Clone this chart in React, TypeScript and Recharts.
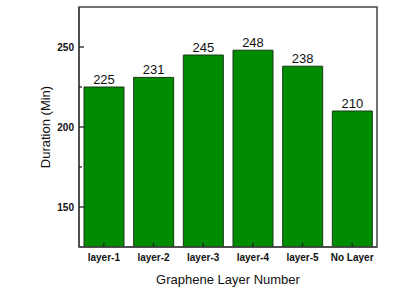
import React from 'react';
import { BarChart, Bar, XAxis, YAxis, LabelList, ReferenceArea } from 'recharts';

const categories = ['layer-1', 'layer-2', 'layer-3', 'layer-4', 'layer-5', 'No Layer'];
const durations = [225, 231, 245, 248, 238, 210];
const yTicks = [150, 175, 200, 225, 250];
const majorTicks = [150, 200, 250];

const data = categories.map((c, i) => ({ name: c, value: durations[i] }));

const FONT = '"Liberation Sans", Arial, sans-serif';
const AXIS = '#444';

const YTick = (props: any) => {
  const { y, payload } = props;
  const major = majorTicks.includes(payload.value);
  const len = major ? 5 : 3;
  const axisX = 79;
  return (
    <g>
      <line x1={axisX} x2={axisX + len} y1={y} y2={y} stroke="#222" strokeWidth={1.3} />
      {major && (
        <text x={axisX - 5} y={y} dy={3.5} textAnchor="end" fontFamily={FONT} fontSize={10} fontWeight="bold" fill="#111">
          {payload.value}
        </text>
      )}
    </g>
  );
};

const XTick = (props: any) => {
  const { x, payload } = props;
  const axisY = 247;
  return (
    <g>
      <line x1={x} x2={x} y1={axisY} y2={axisY - 4} stroke="#222" strokeWidth={1.3} />
      <text x={x} y={axisY + 14} textAnchor="middle" fontFamily={FONT} fontSize={10} fontWeight="bold" fill="#111">
        {payload.value}
      </text>
    </g>
  );
};

export default function App() {
  return (
    <div style={{ position: 'absolute', left: 0, top: 0, width: 402, height: 290, background: '#fff' }}>
      <BarChart
        width={402}
        height={290}
        data={data}
        margin={{ top: 7, right: 25, bottom: 0, left: 0 }}
        barCategoryGap={5}
      >
        <XAxis
          dataKey="name"
          height={43}
          tickLine={false}
          axisLine={{ stroke: AXIS, strokeWidth: 1.5 }}
          tick={<XTick />}
          interval={0}
          label={{ value: 'Graphene Layer Number', position: 'insideBottom', offset: 6, fontFamily: FONT, fontSize: 13, fill: '#111' }}
        />
        <YAxis
          domain={[125, 275]}
          ticks={yTicks}
          width={79}
          tickLine={false}
          allowDataOverflow
          axisLine={{ stroke: AXIS, strokeWidth: 1.5 }}
          tick={<YTick />}
          label={{ value: 'Duration (Min)', angle: -90, position: 'center', dx: -(79 / 2 - 45), fontFamily: FONT, fontSize: 13, fill: '#111' }}
        />
        <ReferenceArea y1={125} y2={275} fill="none" stroke={AXIS} strokeWidth={1.5} fillOpacity={0} ifOverflow="visible" />
        <Bar dataKey="value" fill="#008c00" stroke="#1a3a1a" strokeWidth={1} isAnimationActive={false}>
          <LabelList dataKey="value" position="top" offset={3} fontFamily={FONT} fontSize={13} fill="#111" />
        </Bar>
      </BarChart>
    </div>
  );
}
